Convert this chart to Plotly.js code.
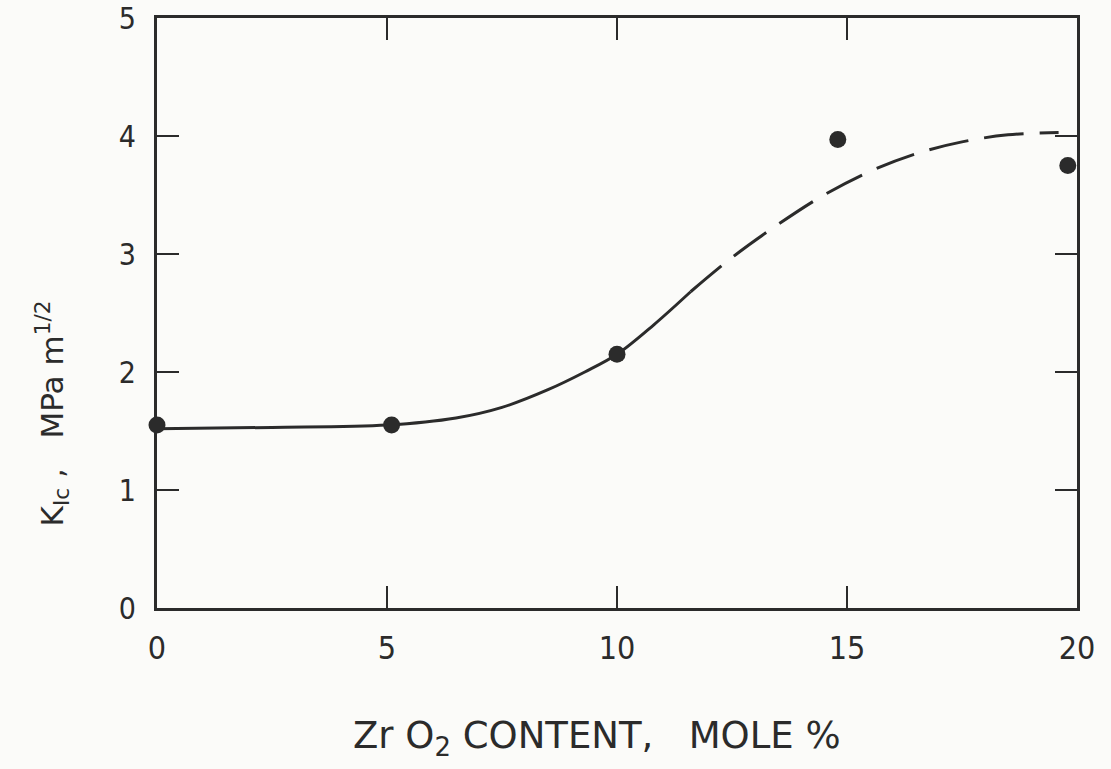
<!DOCTYPE html>
<html>
<head>
<meta charset="utf-8">
<script src="https://cdn.plot.ly/plotly-3.0.1.min.js"></script>
<style>html,body{margin:0;padding:0;background:#fbfbf9;}#chart{width:1111px;height:769px;}</style>
</head>
<body>
<div id="chart"></div>
<script>
// Measured points: ZrO2 content (mole %) vs K_IC (MPa m^1/2)
const zrContent = [0, 5.1, 10, 14.8, 19.8];
const kic = [1.55, 1.55, 2.15, 3.97, 3.75];

// Fitted curve, solid segment
const curveSolidX = [0, 2.5, 5, 6.5, 7.5, 8.5, 9.3, 10, 10.8, 11.6];
const curveSolidY = [1.52, 1.53, 1.55, 1.61, 1.7, 1.85, 2.0, 2.15, 2.4, 2.68];

// Fitted curve, dashed segment
const curveDashX = [11.6, 12.5, 13.5, 14.5, 15.5, 16.5, 17.5, 18.5, 19.6];
const curveDashY = [2.68, 2.97, 3.25, 3.5, 3.7, 3.85, 3.95, 4.01, 4.03];

const xTicks = [0, 5, 10, 15, 20];
const yTicks = [0, 1, 2, 3, 4, 5];

const xTitle = 'Zr O<sub>2</sub> CONTENT,   MOLE %';
const yTitle = 'K<sub>Ic</sub> ,   MPa m<sup>1/2</sup>';

const ink = '#2b2b2b';
const fontFam = '"DejaVu Sans Condensed", "DejaVu Sans", sans-serif';

const traces = [
  {x: curveSolidX, y: curveSolidY, mode: 'lines', line: {color: ink, width: 3, shape: 'spline'}, hoverinfo: 'skip'},
  {x: curveDashX, y: curveDashY, mode: 'lines', line: {color: ink, width: 3, shape: 'spline', dash: '40px,16px'}, hoverinfo: 'skip'},
  {x: zrContent, y: kic, mode: 'markers', marker: {color: ink, size: 17}, cliponaxis: false}
];

const axisCommon = {
  showgrid: false, zeroline: false, showline: true, linecolor: ink, linewidth: 3,
  mirror: 'allticks', ticks: 'inside', ticklen: 22, tickwidth: 2.5, tickcolor: ink,
  ticklabeloverflow: 'allow'
};

const layout = {
  width: 1111, height: 769,
  margin: {l: 157, r: 34, t: 18, b: 161},
  paper_bgcolor: '#fbfbf9', plot_bgcolor: '#fbfbf9',
  showlegend: false,
  xaxis: Object.assign({}, axisCommon, {
    range: [0, 20], tickvals: xTicks, ticktext: xTicks.map(String), ticklabelstandoff: 10,
    tickfont: {family: fontFam, size: 32, color: ink}
  }),
  yaxis: Object.assign({}, axisCommon, {
    range: [0, 5], tickvals: yTicks, ticktext: yTicks.map(String), ticklabelstandoff: 12,
    tickfont: {family: fontFam, size: 30, color: ink}
  }),
  annotations: [
    {text: xTitle, xref: 'paper', yref: 'paper', x: 0.478, y: -0.22, xanchor: 'center', yanchor: 'middle',
     showarrow: false, font: {family: '"DejaVu Sans", sans-serif', size: 37, color: ink}},
    {text: yTitle, xref: 'paper', yref: 'paper', x: -0.114, y: 0.33, xanchor: 'center', yanchor: 'middle',
     textangle: -90, showarrow: false, font: {family: '"DejaVu Sans", sans-serif', size: 31, color: ink}}
  ]
};

Plotly.newPlot('chart', traces, layout, {displayModeBar: false, staticPlot: true});
</script>
</body>
</html>
